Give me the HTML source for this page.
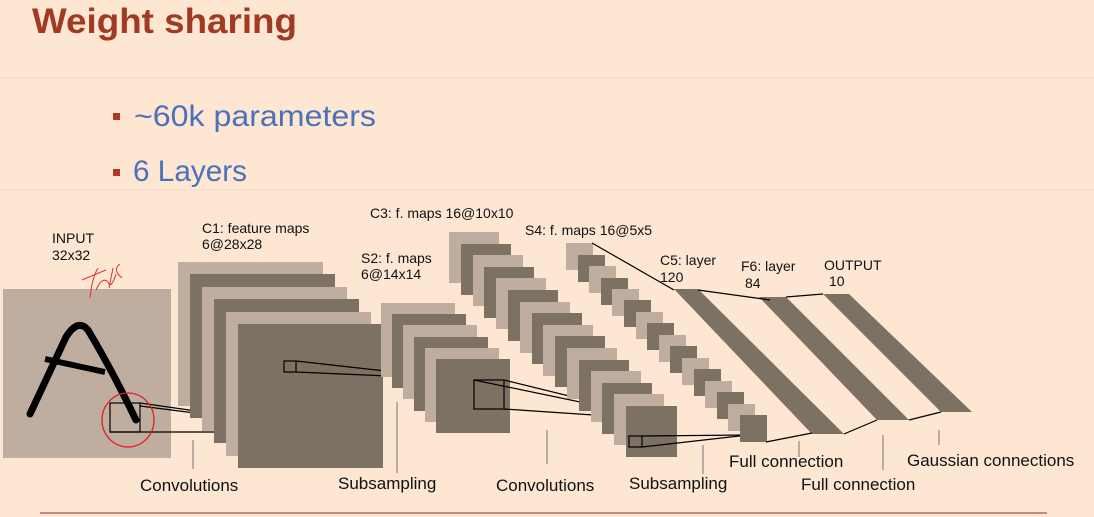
<!DOCTYPE html>
<html><head><meta charset="utf-8"><style>
html,body{margin:0;padding:0;background:#fde6d2;}
svg{display:block;}
</style></head><body>
<svg width="1094" height="517" viewBox="0 0 1094 517" xmlns="http://www.w3.org/2000/svg" font-family="Liberation Sans, sans-serif">
<rect width="1094" height="517" fill="#fde6d2"/>
<g stroke="#f6dcc8" stroke-width="1" fill="none">
<line x1="0" x2="1094" y1="78" y2="78"/><line x1="0" x2="1094" y1="190" y2="190"/>
</g>
<text x="32" y="33" font-size="35" font-weight="bold" fill="#a13a22" textLength="265" lengthAdjust="spacingAndGlyphs">Weight sharing</text>
<rect x="113" y="113" width="7" height="7" fill="#b03a26"/>
<rect x="113" y="169" width="7" height="7" fill="#b03a26"/>
<text x="134" y="126" font-size="30" fill="#4a72b8" textLength="242" lengthAdjust="spacingAndGlyphs">~60k parameters</text>
<text x="133" y="181" font-size="30" fill="#4a72b8" textLength="114" lengthAdjust="spacingAndGlyphs">6 Layers</text>

<!-- input -->
<rect x="3" y="289" width="168" height="169" fill="#bfae9f"/>
<path d="M30,414 L66,337 Q78,318 88,330 Q112,370 136,420" stroke="#000" stroke-width="7" fill="none" stroke-linecap="round"/>
<line x1="45" y1="359" x2="105" y2="372" stroke="#000" stroke-width="6"/>
<rect x="110" y="403" width="30" height="29" fill="none" stroke="#000" stroke-width="1.2"/>
<g stroke="#000" stroke-width="1.2" fill="none"><line x1="140" y1="403" x2="344" y2="432"/><line x1="140" y1="406" x2="344" y2="432"/><line x1="110" y1="432" x2="344" y2="432"/></g>
<ellipse cx="128" cy="420" rx="26" ry="27" fill="none" stroke="#e02020" stroke-width="1.3"/>
<path d="M90,298 q2,-20 8,-30 M82,280 q14,-6 24,-10 M96,290 q6,-14 12,-8 q3,8 8,-8 M113,268 l-4,20 M120,264 q-8,6 2,14" stroke="#e03030" stroke-width="1" fill="none"/>

<g>
<rect x="178" y="262" width="145" height="144" fill="#bfae9f"/>
<rect x="190" y="274" width="145" height="144" fill="#7d7164"/>
<rect x="202" y="287" width="145" height="144" fill="#bfae9f"/>
<rect x="214" y="299" width="145" height="144" fill="#7d7164"/>
<rect x="226" y="312" width="145" height="144" fill="#bfae9f"/>
<rect x="238" y="324" width="145" height="144" fill="#7d7164"/>
</g>
<rect x="284" y="361" width="12" height="11" fill="none" stroke="#000" stroke-width="1.2"/>
<g stroke="#000" stroke-width="1.2"><line x1="296" y1="361" x2="457" y2="379"/><line x1="296" y1="372" x2="457" y2="379"/></g>

<rect x="381" y="303" width="74" height="74" fill="#bfae9f"/>
<rect x="392" y="314" width="74" height="74" fill="#7d7164"/>
<rect x="403" y="325" width="74" height="74" fill="#bfae9f"/>
<rect x="414" y="337" width="74" height="74" fill="#7d7164"/>
<rect x="425" y="348" width="74" height="74" fill="#bfae9f"/>
<rect x="436" y="359" width="74" height="74" fill="#7d7164"/>
<rect x="474" y="380" width="30" height="29" fill="none" stroke="#000" stroke-width="1.2"/>
<g stroke="#000" stroke-width="1.2"><line x1="504" y1="380" x2="667" y2="420"/><line x1="504" y1="409" x2="667" y2="420"/><line x1="474" y1="380" x2="667" y2="420"/></g>

<g>
<rect x="449" y="232" width="50" height="51" fill="#bfae9f"/>
<rect x="461" y="244" width="50" height="51" fill="#7d7164"/>
<rect x="473" y="255" width="50" height="51" fill="#bfae9f"/>
<rect x="484" y="267" width="50" height="51" fill="#7d7164"/>
<rect x="496" y="278" width="50" height="51" fill="#bfae9f"/>
<rect x="508" y="290" width="50" height="51" fill="#7d7164"/>
<rect x="520" y="302" width="50" height="51" fill="#bfae9f"/>
<rect x="532" y="313" width="50" height="51" fill="#7d7164"/>
<rect x="543" y="325" width="50" height="51" fill="#bfae9f"/>
<rect x="555" y="336" width="50" height="51" fill="#7d7164"/>
<rect x="567" y="348" width="50" height="51" fill="#bfae9f"/>
<rect x="579" y="360" width="50" height="51" fill="#7d7164"/>
<rect x="591" y="371" width="50" height="51" fill="#bfae9f"/>
<rect x="602" y="383" width="50" height="51" fill="#7d7164"/>
<rect x="614" y="394" width="50" height="51" fill="#bfae9f"/>
<rect x="626" y="406" width="51" height="51" fill="#7d7164"/>
</g>
<rect x="629" y="436" width="13" height="11" fill="none" stroke="#000" stroke-width="1.2"/>
<g stroke="#000" stroke-width="1.2"><line x1="642" y1="436" x2="748" y2="435"/><line x1="642" y1="447" x2="748" y2="435"/></g>

<g>
<rect x="566" y="243" width="27" height="27" fill="#bfae9f"/>
<rect x="578" y="255" width="27" height="27" fill="#7d7164"/>
<rect x="589" y="266" width="27" height="27" fill="#bfae9f"/>
<rect x="601" y="278" width="27" height="27" fill="#7d7164"/>
<rect x="612" y="289" width="27" height="27" fill="#bfae9f"/>
<rect x="624" y="300" width="27" height="27" fill="#7d7164"/>
<rect x="636" y="312" width="27" height="27" fill="#bfae9f"/>
<rect x="647" y="323" width="27" height="27" fill="#7d7164"/>
<rect x="659" y="335" width="27" height="27" fill="#bfae9f"/>
<rect x="670" y="346" width="27" height="27" fill="#7d7164"/>
<rect x="682" y="358" width="27" height="27" fill="#bfae9f"/>
<rect x="694" y="369" width="27" height="27" fill="#7d7164"/>
<rect x="705" y="381" width="27" height="27" fill="#bfae9f"/>
<rect x="717" y="392" width="27" height="27" fill="#7d7164"/>
<rect x="728" y="404" width="27" height="27" fill="#bfae9f"/>
<rect x="740" y="415" width="27" height="27" fill="#7d7164"/>
</g>

<polygon points="674,289 698,289 844,434 812,434" fill="#7d7164"/>
<polygon points="759,297 786,297 909,420 877,420" fill="#7d7164"/>
<polygon points="823,294 849,294 972,412 941,412" fill="#7d7164"/>
<g stroke="#000" stroke-width="1.2">
<line x1="592" y1="243" x2="674" y2="290"/>
<line x1="698" y1="290" x2="770" y2="300"/>
<line x1="786" y1="297" x2="823" y2="294"/>
<line x1="766" y1="442" x2="812" y2="433"/>
<line x1="844" y1="434" x2="877" y2="420"/>
<line x1="909" y1="420" x2="941" y2="412"/>
</g>
<g stroke="#777" stroke-width="1">
<line x1="193" y1="440" x2="193" y2="469"/>
<line x1="397" y1="402" x2="397" y2="473"/>
<line x1="547" y1="430" x2="547" y2="464"/>
<line x1="703" y1="445" x2="703" y2="474"/>
<line x1="799" y1="441" x2="799" y2="457"/>
<line x1="883" y1="435" x2="883" y2="470"/>
<line x1="939" y1="430" x2="939" y2="445"/>
</g>
<g font-size="14" fill="#111">
<text x="52" y="243">INPUT</text><text x="52" y="260">32x32</text>
<text x="202" y="233">C1: feature maps</text><text x="202" y="249">6@28x28</text>
<text x="361" y="263">S2: f. maps</text><text x="361" y="279">6@14x14</text>
<text x="370" y="218">C3: f. maps 16@10x10</text>
<text x="525" y="235">S4: f. maps 16@5x5</text>
<text x="660" y="265">C5: layer</text><text x="660" y="282">120</text>
<text x="741" y="271">F6: layer</text><text x="745" y="288">84</text>
<text x="824" y="270">OUTPUT</text><text x="829" y="286">10</text>
</g>
<g font-size="17" fill="#111">
<text x="140" y="491">Convolutions</text>
<text x="338" y="489">Subsampling</text>
<text x="496" y="491">Convolutions</text>
<text x="629" y="489">Subsampling</text>
<text x="729" y="467">Full connection</text>
<text x="801" y="490">Full connection</text>
<text x="907" y="466">Gaussian connections</text>
</g>
<line x1="40" y1="513" x2="1047" y2="513" stroke="#c98a78" stroke-width="2"/>
</svg>
</body></html>
